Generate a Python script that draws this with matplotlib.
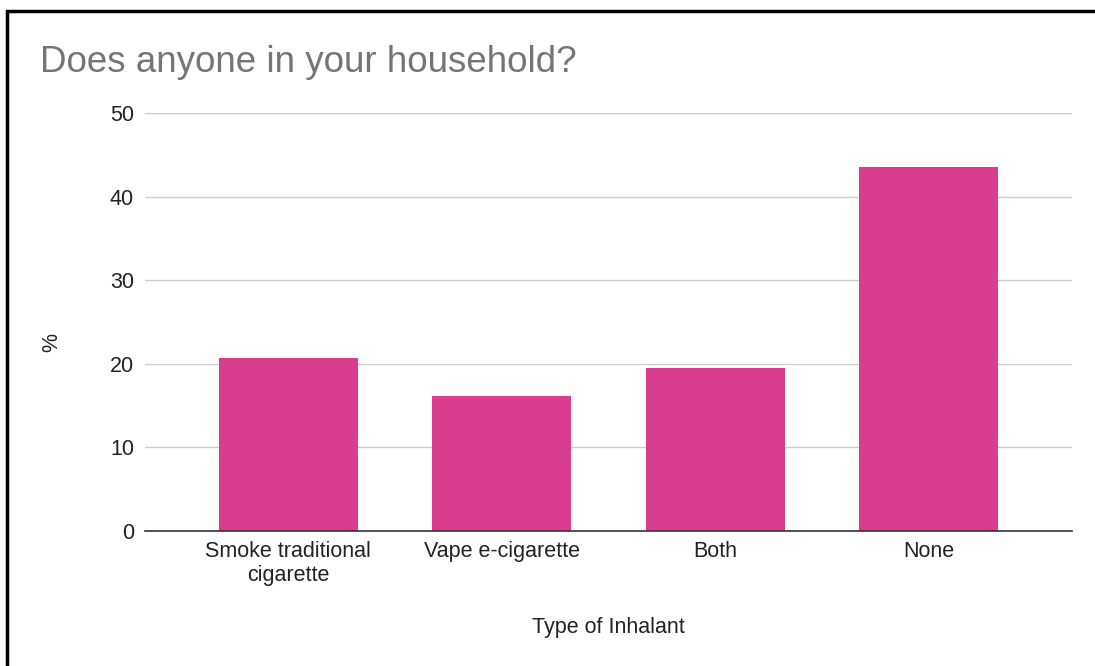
import matplotlib
matplotlib.use('Agg')
from matplotlib import pyplot as plt
from matplotlib.patches import Rectangle

categories = ['Smoke traditional\ncigarette', 'Vape e-cigarette', 'Both', 'None']
percent = [20.7, 16.2, 19.5, 43.5]

plt.rcParams['font.family'] = ['Liberation Sans', 'DejaVu Sans']

fig = plt.figure(figsize=(10.95, 6.66), dpi=100)
ax = fig.add_axes([145/1095, 1-531/666, (1072-145)/1095, (531-113)/666])

x = range(len(categories))
ax.bar(x, percent, width=0.65, color='#DB3D8E', zorder=3)

ax.set_xlim(-0.67, 3.67)
ax.set_ylim(0, 50)
ax.set_yticks([0, 10, 20, 30, 40, 50])
ax.set_xticks(list(x))
ax.set_xticklabels(categories, fontsize=15.5, color='#222222', linespacing=1.2)
ax.tick_params(axis='y', labelsize=15.5, labelcolor='#222222', length=0, pad=8)
ax.tick_params(axis='x', length=0, pad=7)
ax.grid(axis='y', color='#CCCCCC', linewidth=1, zorder=0)
for s in ['top', 'right', 'left']:
    ax.spines[s].set_visible(False)
ax.spines['bottom'].set_color('#333333')
ax.spines['bottom'].set_linewidth(1.2)
ax.spines['bottom'].set_zorder(4)

fig.text(608/1095, 1-628/666, 'Type of Inhalant', fontsize=15.5, color='#222222',
         ha='center', va='center')
fig.text(52/1095, 1-342/666, '%', rotation=90, fontsize=15.5, color='#222222',
         ha='center', va='center')
fig.text(40/1095, 1-63/666, 'Does anyone in your household?', fontsize=26.5,
         color='#757575', ha='left', va='center')

# border only top/left visible in the source crop
fig.patches.append(Rectangle((7/1095, -0.1), 1.2, 1 - 11/666 + 0.1,
                             transform=fig.transFigure, fill=False,
                             edgecolor='black', linewidth=2.5))

plt.savefig('out.png', dpi=100)
